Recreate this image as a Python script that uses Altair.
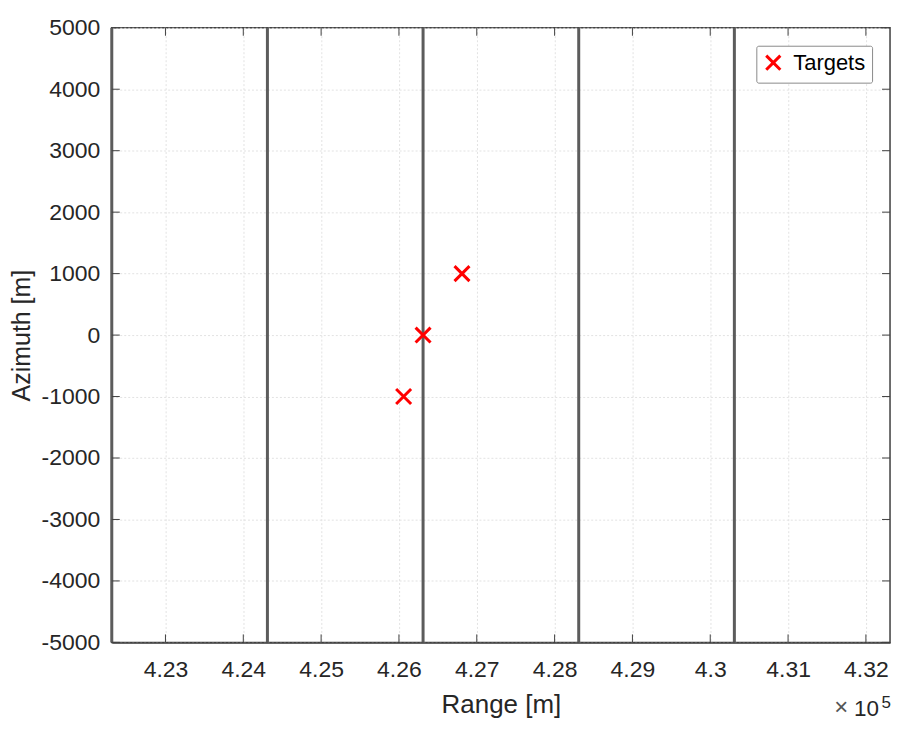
import altair as alt
import pandas as pd

# Data (metres)
target_range = [426060, 426310, 426810]
target_azimuth = [-1000, 0, 1000]
series_name = ["Targets", "Targets", "Targets"]
swath_lines = [422310, 424310, 426310, 428310, 430310]
x_ticks = [423000, 424000, 425000, 426000, 427000, 428000, 429000, 430000, 431000, 432000]
y_ticks = [-5000, -4000, -3000, -2000, -1000, 0, 1000, 2000, 3000, 4000, 5000]
x_domain = [422310, 432310]
y_domain = [-5000, 5000]

W, H = 780, 616
FONT = "Liberation Sans"
TXT = "#262626"
XPATH = "M-1,-1L1,1M-1,1L1,-1"

targets = pd.DataFrame({"range": target_range, "azimuth": target_azimuth, "series": series_name})
lines = pd.DataFrame({"range": swath_lines})
xt = pd.DataFrame({"range": x_ticks})
yt = pd.DataFrame({"azimuth": y_ticks})

xscale = alt.Scale(domain=x_domain, nice=False, zero=False)
yscale = alt.Scale(domain=y_domain, nice=False, zero=False)

xaxis = alt.Axis(
    values=x_ticks,
    labelExpr="format(datum.value / 100000, '.3~g')",
    title="Range [m]",
    grid=True,
    ticks=False,
    labelBaseline="alphabetic",
    labelPadding=34,
    titleX=W / 2,
    titleY=70.5,
    titleBaseline="alphabetic",
)
yaxis = alt.Axis(
    values=y_ticks,
    labelExpr="'' + datum.value",
    title="Azimuth [m]",
    grid=True,
    ticks=False,
    labelPadding=12,
    titleX=-82,
    titleY=H / 2,
    titleAngle=270,
    titleBaseline="alphabetic",
    titleFontSize=25,
)

base_x = alt.X("range:Q", scale=xscale, axis=xaxis)
base_y = alt.Y("azimuth:Q", scale=yscale, axis=yaxis)

# axes carrier (invisible points)
axes_layer = alt.Chart(targets).mark_point(opacity=0).encode(x=base_x, y=base_y)

vlines = alt.Chart(lines).mark_rule(color="#5c5c5c", strokeWidth=3).encode(
    x=alt.X("range:Q", scale=xscale)
)

# inward ticks
tick_len = 8
tick_col = "#404040"
xt_bottom = alt.Chart(xt).mark_rule(color=tick_col, strokeWidth=1).encode(
    x=alt.X("range:Q", scale=xscale), y=alt.value(H), y2=alt.value(H - tick_len)
)
xt_top = alt.Chart(xt).mark_rule(color=tick_col, strokeWidth=1).encode(
    x=alt.X("range:Q", scale=xscale), y=alt.value(0), y2=alt.value(tick_len)
)
yt_left = alt.Chart(yt).mark_rule(color=tick_col, strokeWidth=1).encode(
    y=alt.Y("azimuth:Q", scale=yscale), x=alt.value(0), x2=alt.value(tick_len)
)
yt_right = alt.Chart(yt).mark_rule(color=tick_col, strokeWidth=1).encode(
    y=alt.Y("azimuth:Q", scale=yscale), x=alt.value(W), x2=alt.value(W - tick_len)
)

points = alt.Chart(targets).mark_point(
    shape=XPATH, filled=False, strokeWidth=3, size=225, opacity=1
).encode(
    x=alt.X("range:Q", scale=xscale),
    y=alt.Y("azimuth:Q", scale=yscale),
    color=alt.Color(
        "series:N",
        scale=alt.Scale(domain=["Targets"], range=["#ff0000"]),
        legend=alt.Legend(
            title=None,
            orient="none",
            legendX=646,
            legendY=18,
            symbolType=XPATH,
            symbolStrokeWidth=3,
            symbolSize=200,
            symbolFillColor="transparent",
            labelFontSize=22,
            labelFont=FONT,
            labelColor="#000000",
            labelOffset=9,
            strokeColor="#8a8a8a",
            fillColor="#ffffff",
            padding=6,
            cornerRadius=2,
        ),
    ),
)

exp_times = alt.Chart(pd.DataFrame({"t": ["×"]})).mark_text(
    align="right", baseline="alphabetic", fontSize=24, font=FONT, color="#555555"
).encode(text="t:N", x=alt.value(W - 42), y=alt.value(H + 73))
exp_main = alt.Chart(pd.DataFrame({"t": ["10"]})).mark_text(
    align="right", baseline="alphabetic", fontSize=22.5, font=FONT, color=TXT
).encode(text="t:N", x=alt.value(W - 11), y=alt.value(H + 74))
exp_sup = alt.Chart(pd.DataFrame({"t": ["5"]})).mark_text(
    align="right", baseline="alphabetic", fontSize=17, font=FONT, color=TXT
).encode(text="t:N", x=alt.value(W + 1), y=alt.value(H + 66))

chart = (
    alt.layer(axes_layer, vlines, xt_bottom, xt_top, yt_left, yt_right, points,
              exp_times, exp_main, exp_sup)
    .properties(
        width=W,
        height=H,
        background="#ffffff",
        autosize=alt.AutoSizeParams(type="none"),
        padding={"left": 104, "top": 19, "right": 12, "bottom": 90},
    )
    .configure_view(stroke="#404040", strokeWidth=1.5)
    .configure_axis(
        labelFont=FONT,
        titleFont=FONT,
        labelFontSize=23,
        titleFontSize=26,
        titleFontWeight="normal",
        labelColor=TXT,
        titleColor=TXT,
        domainColor="#404040",
        domainWidth=1.5,
        gridColor="#e2e2e2",
        gridDash=[2, 2],
        gridWidth=1,
    )
)

chart.save("out.html", embed_options={"renderer": "svg", "actions": False})
